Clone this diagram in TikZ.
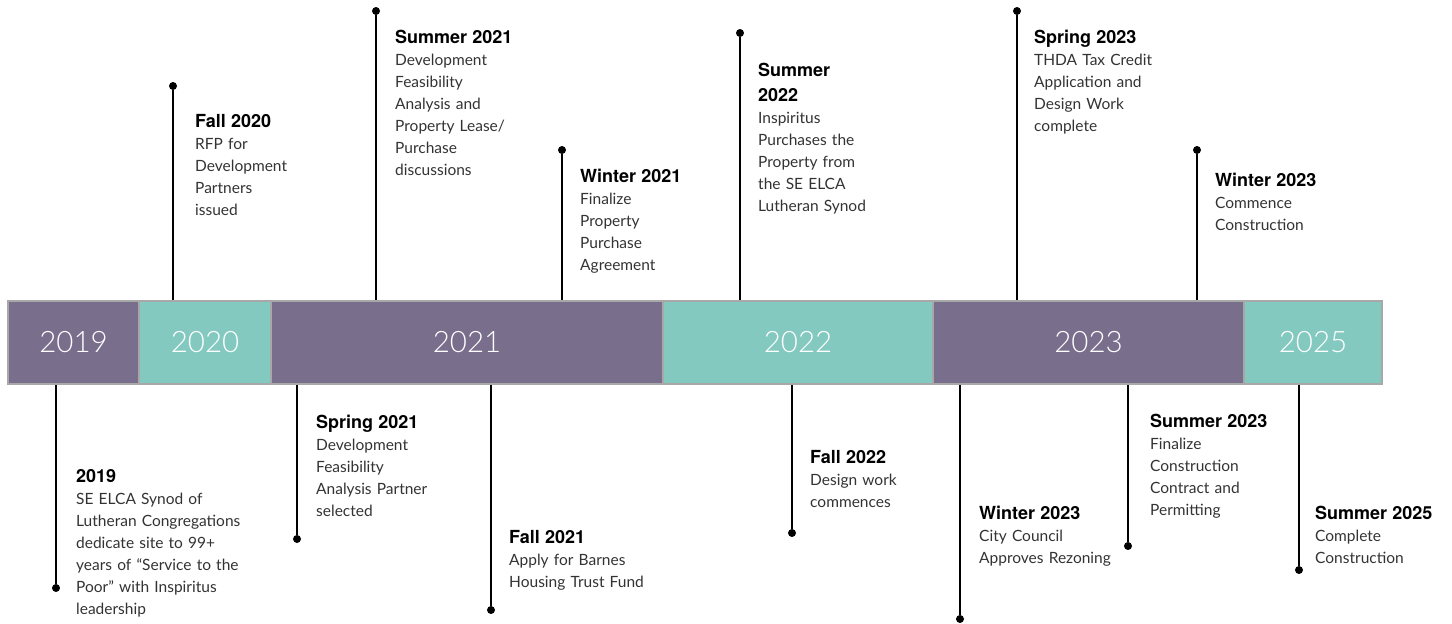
\documentclass[tikz,border=0pt]{standalone}
\usepackage{fontspec}
\setmainfont{Lato}
\newfontfamily\headfont{TeX Gyre Heros}
\newfontfamily\yearfont{Lato Light}
\definecolor{plum}{HTML}{796F8D}
\definecolor{seafoam}{HTML}{84C9C0}
\definecolor{rim}{HTML}{A8A8A8}
\newcommand{\mtitle}[1]{{\headfont\bfseries\fontsize{18}{22}\selectfont\color{black}#1}\\}
\tikzset{
	segment/.style={draw=rim, line width=1.8pt, minimum height=83pt, inner sep=0pt, text=white, font=\yearfont\fontsize{29.5}{30}\selectfont},
	dot/.style={circle, fill=black, inner sep=0pt, minimum size=8pt},
	stem/.style={line width=1.6pt},
	event/.style={anchor=base west, inner sep=0pt, text width=230pt, align=left, text=black!80, font=\fontsize{15.5}{22}\selectfont},
}

\begin{document}
\begin{tikzpicture}[x=1pt, y=-1pt]
		%%%%% START %%%%%
		\useasboundingbox (0, 0) rectangle (1452, 624);
		
		\node[segment, fill=plum, minimum width=131.5pt] (y2019) at (73.5, 342.5) {2019};
		\node[segment, fill=seafoam, minimum width=131.5pt] (y2020) at (205, 342.5) {2020};
		\node[segment, fill=plum, minimum width=392pt] (y2021) at (467, 342.5) {2021};
		\node[segment, fill=seafoam, minimum width=270pt] (y2022) at (798, 342.5) {2022};
		\node[segment, fill=plum, minimum width=311pt] (y2023) at (1088.5, 342.5) {2023};
		\node[segment, fill=seafoam, minimum width=138pt] (y2025) at (1313, 342.5) {2025};
		
		%% above the bar
		\node[dot] (dfall20) at (173, 86) {};
		\draw[stem] (dfall20) -- (dfall20 |- y2020.north);
		\node[event] (efall20) at (195, 127) {\mtitle{Fall 2020}RFP for\\Development\\Partners\\issued};
		
		\node[dot] (dsum21) at (376, 11) {};
		\draw[stem] (dsum21) -- (dsum21 |- y2021.north);
		\node[event] (esum21) at (395, 43) {\mtitle{Summer 2021}Development\\Feasibility\\Analysis and\\Property Lease/\\Purchase\\discussions};
		
		\node[dot] (dwin21) at (562, 150) {};
		\draw[stem] (dwin21) -- (dwin21 |- y2021.north);
		\node[event] (ewin21) at (580, 182) {\mtitle{Winter 2021}Finalize\\Property\\Purchase\\Agreement};
		
		\node[dot] (dsum22) at (740, 33) {};
		\draw[stem] (dsum22) -- (dsum22 |- y2022.north);
		\node[event] (esum22) at (758, 76) {\mtitle{Summer\\[3pt]2022}Inspiritus\\Purchases the\\Property from\\the SE ELCA\\Lutheran Synod};
		
		\node[dot] (dspr23) at (1017, 11) {};
		\draw[stem] (dspr23) -- (dspr23 |- y2023.north);
		\node[event] (espr23) at (1034, 43) {\mtitle{Spring 2023}THDA Tax Credit\\Application and\\Design Work\\complete};
		
		\node[dot] (dwin23a) at (1197, 150) {};
		\draw[stem] (dwin23a) -- (dwin23a |- y2023.north);
		\node[event] (ewin23a) at (1215, 186) {\mtitle{Winter 2023}Commence\\Construction};
		
		%% below the bar
		\node[dot] (d19) at (56, 588) {};
		\draw[stem] (d19) -- (d19 |- y2019.south);
		\node[event] (e19) at (76, 482) {\mtitle{2019}SE ELCA Synod of\\Lutheran Congregations\\dedicate site to 99+\\years of “Service to the\\Poor” with Inspiritus\\leadership};
		
		\node[dot] (dspr21) at (297, 539) {};
		\draw[stem] (dspr21) -- (dspr21 |- y2021.south);
		\node[event] (espr21) at (316, 428) {\mtitle{Spring 2021}Development\\Feasibility\\Analysis Partner\\selected};
		
		\node[dot] (dfall21) at (491, 610) {};
		\draw[stem] (dfall21) -- (dfall21 |- y2021.south);
		\node[event] (efall21) at (509, 543) {\mtitle{Fall 2021}Apply for Barnes\\Housing Trust Fund};
		
		\node[dot] (dfall22) at (792, 533) {};
		\draw[stem] (dfall22) -- (dfall22 |- y2022.south);
		\node[event] (efall22) at (810, 463) {\mtitle{Fall 2022}Design work\\commences};
		
		\node[dot] (dwin23b) at (960, 619) {};
		\draw[stem] (dwin23b) -- (dwin23b |- y2023.south);
		\node[event] (ewin23b) at (979, 519) {\mtitle{Winter 2023}City Council\\Approves Rezoning};
		
		\node[dot] (dsum23) at (1128, 546) {};
		\draw[stem] (dsum23) -- (dsum23 |- y2023.south);
		\node[event] (esum23) at (1150, 427) {\mtitle{Summer 2023}Finalize\\Construction\\Contract and\\Permitting};
		
		\node[dot] (dsum25) at (1299, 570) {};
		\draw[stem] (dsum25) -- (dsum25 |- y2025.south);
		\node[event] (esum25) at (1315, 519) {\mtitle{Summer 2025}Complete\\Construction};
		
		%%%%% END %%%%%
	\end{tikzpicture}
\end{document}
